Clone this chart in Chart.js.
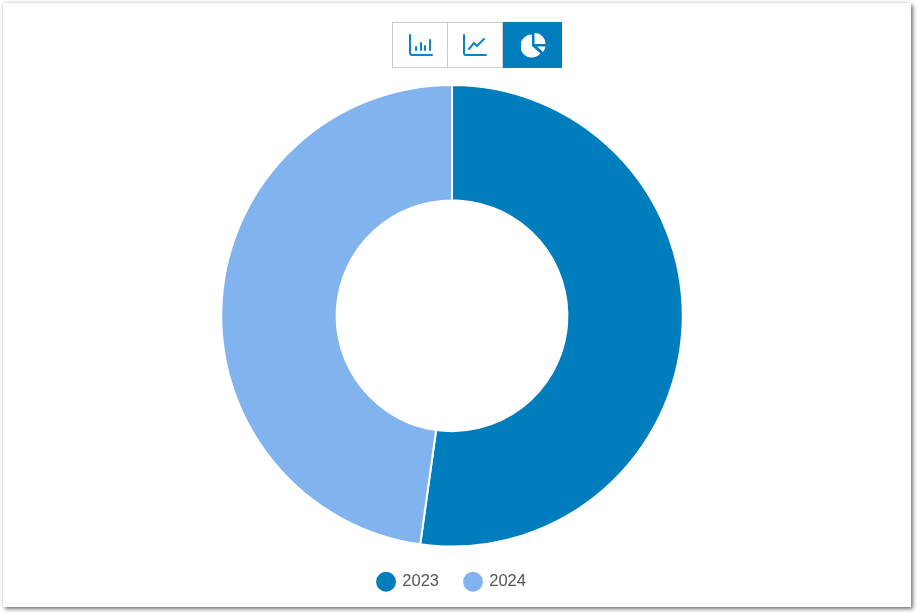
<!DOCTYPE html>
<html>
<head>
<meta charset="utf-8">
<style>
    html, body { margin: 0; padding: 0; width: 917px; height: 613px; background: #fff; overflow: hidden; }
    .card { position: absolute; left: 3px; top: 3px; width: 908px; height: 604px; background: #fff; box-shadow: 2px 2px 4px rgba(0, 0, 0, 0.55), -1px -1px 3px rgba(0, 0, 0, 0.08); }
    .toggle { position: absolute; left: 392px; top: 22px; display: flex; height: 46px; }
    .toggle div { box-sizing: border-box; height: 46px; border: 1px solid #ccc; display: flex; align-items: center; justify-content: center; }
    .toggle div + div { border-left: 0; }
    .toggle .active { background: #007dbc; border-color: #007dbc; }
    canvas { position: absolute; left: 0; top: 75px; }
</style>
</head>
<body>
<div class="card"></div>
<canvas id="chart" width="904" height="525"></canvas>
<div class="toggle">
    <div style="width:56px">
        <svg width="26" height="24" viewBox="0 0 26 24" fill="none" stroke="#0a84c4" stroke-width="2" stroke-linecap="round" style="margin-left:2px">
            <path d="M2 2V20a2 2 0 0 0 2 2H24"/><path d="M8 14v3M13 10v7M17 13v4M22 7v10"/>
        </svg>
    </div>
    <div style="width:55px">
        <svg width="26" height="24" viewBox="0 0 26 24" fill="none" stroke="#0a84c4" stroke-width="2" stroke-linecap="round" stroke-linejoin="round">
            <path d="M2 2V20a2 2 0 0 0 2 2H24"/><path d="M7 16l5-6 3 3 7-7"/>
        </svg>
    </div>
    <div class="active" style="width:59px">
        <svg width="26" height="26" viewBox="0 0 26 26" fill="#fff" style="margin-left:3px">
            <path d="M11 2.500a11.500 11.500 0 1 0 8.500 19L11 14z"/>
            <path d="M13.500 1a11 11 0 0 1 11 11H13.500z"/>
            <path d="M16 14.500h8.500a10 10 0 0 1-2.500 5.500z"/>
        </svg>
    </div>
</div>
<script src="https://cdn.jsdelivr.net/npm/chart.js@4/dist/chart.umd.min.js"></script>
<script>
const years = ['2023', '2024'];
const shares = [52.2, 47.8];
const sliceColors = ['#007dbc', '#81b4ef'];

document.addEventListener('DOMContentLoaded', () => {
    const ctx = document.getElementById('chart').getContext('2d');
    new Chart(ctx, {
        type: 'doughnut',
        data: {
            labels: years,
            datasets: [{
                data: shares,
                backgroundColor: sliceColors,
                borderColor: '#fff',
                borderWidth: 2
            }]
        },
        options: {
            responsive: false,
            animation: false,
            cutout: '50%',
            layout: { padding: { top: 9, bottom: 0 } },
            plugins: {
                tooltip: { enabled: false },
                legend: {
                    position: 'bottom',
                    labels: {
                        usePointStyle: true,
                        boxWidth: 16,
                        boxHeight: 15.500,
                        padding: 26,
                        color: '#555',
                        font: { family: '"Liberation Sans", Arial, sans-serif', size: 16.5 }
                    }
                }
            }
        }
    });
});
</script>
</body>
</html>
